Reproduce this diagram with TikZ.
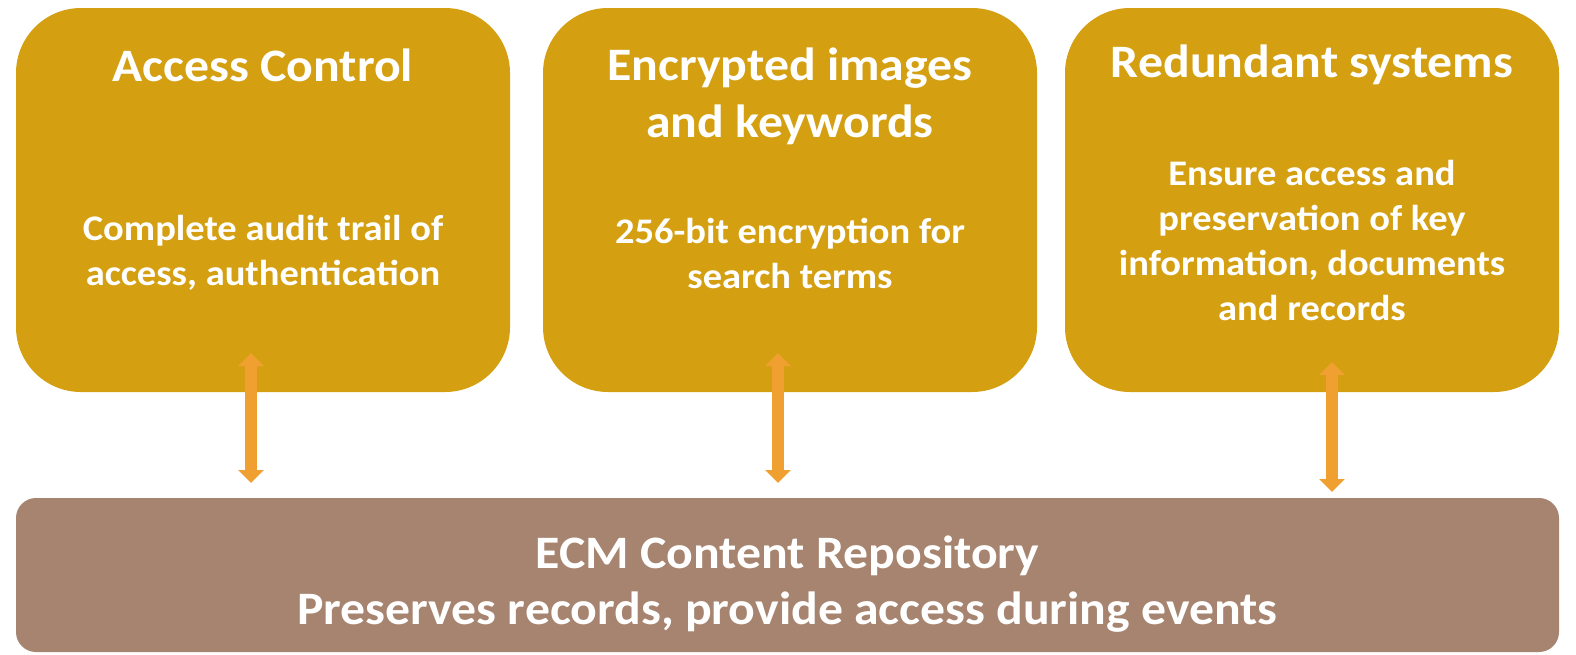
\documentclass[tikz,border=0pt]{standalone}
\usepackage{fontspec}
\setmainfont{Carlito}
\newfontfamily\widefont[FakeStretch=1.07]{Carlito}
\usetikzlibrary{arrows.meta}

\definecolor{boxgold}{HTML}{D4A012}
\definecolor{repobrown}{HTML}{A6846F}
\definecolor{linkorange}{HTML}{F0A030}

\tikzset{
    goldbox/.style={fill=boxgold, rounded corners=65pt, minimum width=494pt, minimum height=384pt, inner sep=0pt},
    headtext/.style={text=white, font=\widefont\bfseries\fontsize{46.5}{57}\selectfont, align=center},
    bodytext/.style={text=white, font=\widefont\bfseries\fontsize{36}{45}\selectfont, align=center},
    linkarrow/.style={draw=linkorange, line width=12pt, {Triangle[width=25pt,length=13pt]}-{Triangle[width=25pt,length=13pt]}}
}

\begin{document}
\begin{tikzpicture}[x=1pt, y=-1pt]
            \useasboundingbox (0,0) rectangle (1576,654);

            % three boxes on top
            \node[goldbox] (access) at (263,200) {};
            \node[goldbox] (encrypt) at (790,200) {};
            \node[goldbox] (redund) at (1312,200) {};

            \node[headtext] (accesshead) at (263,65) {Access Control};
            \node[bodytext] (accessbody) at (263,253) {Complete audit trail of\\access, authentication};

            \node[headtext] (encrypthead) at (790,96) {Encrypted images\\and keywords};
            \node[bodytext] (encryptbody) at (790,253) {256-bit encryption for\\search terms};

            \node[headtext] (redundhead) at (1312,65) {Redundant systems};
            \node[bodytext] (redundbody) at (1312,240) {Ensure access and\\preservation of key\\information, documents\\and records};

            % repository
            \node[fill=repobrown, rounded corners=20pt, minimum width=1543pt, minimum height=154pt, inner sep=0pt] (repo) at (787.5,575) {};
            \node[headtext, font=\widefont\bfseries\fontsize{46.5}{56}\selectfont] (repotext) at (787.5,584) {ECM Content Repository\\Preserves records, provide access during events};

            % links
            \coordinate (accesslink) at (251,353);
            \coordinate (accessrepo) at (251,483);
            \coordinate (encryptlink) at (778,353);
            \coordinate (encryptrepo) at (778,483);
            \coordinate (redundlink) at (1332,362);
            \coordinate (redundrepo) at (1332,492);

            \draw[linkarrow] (accesslink) -- (accessrepo);
            \draw[linkarrow] (encryptlink) -- (encryptrepo);
            \draw[linkarrow] (redundlink) -- (redundrepo);
        \end{tikzpicture}
\end{document}
